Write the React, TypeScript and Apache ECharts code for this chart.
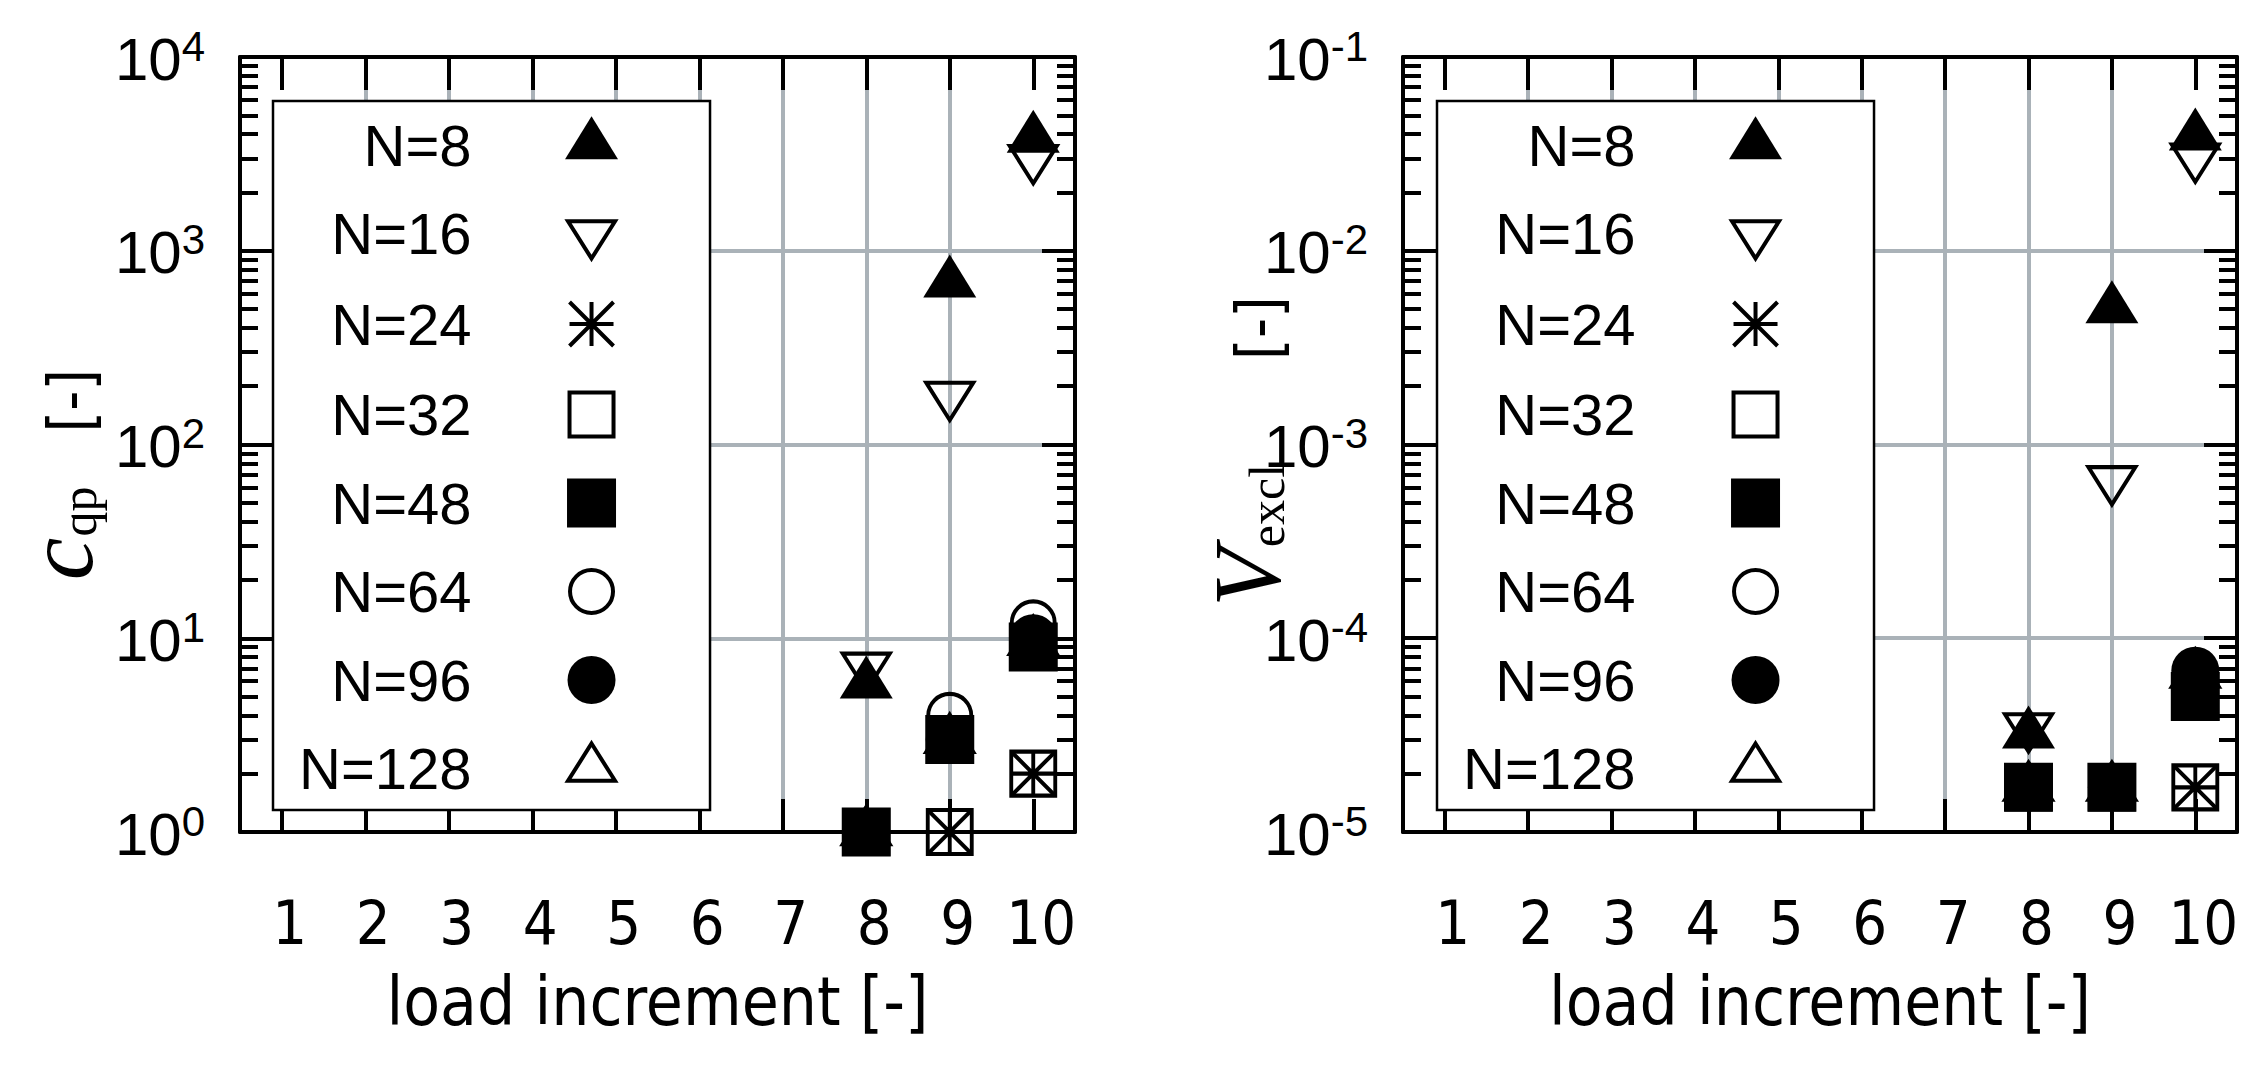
import React, { useEffect, useRef } from "react";
import * as echarts from "echarts";

// ---------------- data ----------------
const loadIncrements = [1, 2, 3, 4, 5, 6, 7, 8, 9, 10];
const xTickLabels = ["1", "2", "3", "4", "5", "6", "7", "8", "9", "10"];
const seriesNames = ["N=8", "N=16", "N=24", "N=32", "N=48", "N=64", "N=96", "N=128"];

// c_qp [-] per load increment (null = no point)
const cqpN8 = [null, null, null, null, null, null, null, 5.8, 680, 3800];
const cqpN16 = [null, null, null, null, null, null, null, 7.2, 180, 3000];
const cqpN24 = [null, null, null, null, null, null, null, 1, 1, 2];
const cqpN32 = [null, null, null, null, null, null, null, 1, 1, 2];
const cqpN48 = [null, null, null, null, null, null, null, 1, 3, 9];
const cqpN64 = [null, null, null, null, null, null, null, 1, 4, 12];
const cqpN96 = [null, null, null, null, null, null, null, 1, 3, 10];
const cqpN128 = [null, null, null, null, null, null, null, 1, 3, 9.6];

// V_excl [-] per load increment (null = no point)
const vexN8 = [null, null, null, null, null, null, null, 3.2e-5, 5.0e-3, 3.9e-2];
const vexN16 = [null, null, null, null, null, null, null, 3.5e-5, 6.6e-4, 3.05e-2];
const vexN24 = [null, null, null, null, null, null, null, 1.7e-5, 1.7e-5, 1.7e-5];
const vexN32 = [null, null, null, null, null, null, null, 1.7e-5, 1.7e-5, 1.7e-5];
const vexN48 = [null, null, null, null, null, null, null, 1.7e-5, 1.7e-5, 5.0e-5];
const vexN64 = [null, null, null, null, null, null, null, 1.7e-5, 1.7e-5, 6.0e-5];
const vexN96 = [null, null, null, null, null, null, null, 1.7e-5, 1.7e-5, 6.8e-5];
const vexN128 = [null, null, null, null, null, null, null, 1.7e-5, 1.7e-5, 6.5e-5];

const cqpMajorTicks = [1, 10, 100, 1000, 10000];
const vexMajorTicks = [1e-5, 1e-4, 1e-3, 1e-2, 1e-1];
const minorMultipliers = [2, 3, 4, 5, 6, 7, 8, 9];

const cqpValues = [cqpN8, cqpN16, cqpN24, cqpN32, cqpN48, cqpN64, cqpN96, cqpN128];
const vexValues = [vexN8, vexN16, vexN24, vexN32, vexN48, vexN64, vexN96, vexN128];

// ---------------- styles ----------------
const SANS = "'Liberation Sans', Arial, Helvetica, sans-serif";
const NARROW = "'DejaVu Sans Condensed', 'Liberation Sans Narrow', 'Liberation Sans', sans-serif";
const SERIF = "'Liberation Serif', 'DejaVu Serif', serif";
const GRID_GRAY = "#aab2b8";
const LW = 4;

// symbols drawn in a fixed 54 x 58 frame (pixel units); triangles centred on centroid
const FRAME = "M-27,-29 M27,29 ";
const SYM_TRI_UP = FRAME + "M0,-28.7 L26.5,14.3 L-26.5,14.3 Z";
const SYM_TRI_DOWN = FRAME + "M0,25 L23.5,-12.3 L-23.5,-12.3 Z";
const SYM_STAR = FRAME + "M-22,0 L22,0 M0,-22 L0,22 M-22,-22 L22,22 M22,-22 L-22,22";
const SYM_SQ_OPEN = FRAME + "M-22,-22 L22,-22 L22,22 L-22,22 Z";
const SYM_SQ_FILL = FRAME + "M-24.5,-24.5 L24.5,-24.5 L24.5,24.5 L-24.5,24.5 Z";
const SYM_CIR_OPEN = FRAME + "M-21.5,0 A21.5,21.5 0 1 0 21.5,0 A21.5,21.5 0 1 0 -21.5,0 Z";
const SYM_CIR_FILL = FRAME + "M-24,0 A24,24 0 1 0 24,0 A24,24 0 1 0 -24,0 Z";
const SYM_TRI_UP_OPEN = FRAME + "M0,-25 L23.5,12.3 L-23.5,12.3 Z";

const markerSymbols = [SYM_TRI_UP, SYM_TRI_DOWN, SYM_STAR, SYM_SQ_OPEN, SYM_SQ_FILL, SYM_CIR_OPEN, SYM_CIR_FILL, SYM_TRI_UP_OPEN];
const markerFilled = [true, false, false, false, true, false, true, false];

function markerStyle(i: number) {
  return markerFilled[i]
    ? { color: "#000", borderColor: "#000", borderWidth: 0, opacity: 1 }
    : { color: "rgba(0,0,0,0)", borderColor: "#000", borderWidth: LW, opacity: 1 };
}

function makeSeries(values: (number | null)[][], xAxisIndex: number, yAxisIndex: number) {
  return seriesNames.map((name, i) => ({
    type: "scatter",
    name,
    xAxisIndex,
    yAxisIndex,
    symbol: "path://" + markerSymbols[i],
    symbolSize: [54, 58],
    itemStyle: markerStyle(i),
    emphasis: { disabled: true },
    clip: false,
    z: 3,
    data: loadIncrements
      .map((x, j) => [x, values[i][j]])
      .filter((d) => d[1] !== null && d[1] !== undefined),
  }));
}

function makeLegend(left: number) {
  return {
    show: true,
    orient: "vertical",
    align: "right",
    left,
    top: 101,
    itemWidth: 54,
    itemHeight: 58,
    itemGap: 28.5,
    padding: [15, 89.5, 10.5, 26],
    backgroundColor: "#fff",
    borderColor: "#000",
    borderWidth: 2.5,
    borderRadius: 0,
    selectedMode: false,
    z: 6,
    textStyle: { fontFamily: SANS, fontSize: 58, color: "#000", lineHeight: 58, padding: [0, 88, 0, 0] },
    data: seriesNames.map((name, i) => ({ name, itemStyle: markerStyle(i) })),
  };
}

function minorTicks(majors: number[]) {
  const out: number[] = [];
  majors.slice(0, -1).forEach((m) => minorMultipliers.forEach((k) => out.push(+(m * k).toPrecision(6))));
  return out;
}

function xAxes(gridIndex: number) {
  const bottom = {
    gridIndex,
    type: "value",
    position: "bottom",
    min: 0.5,
    max: 10.5,
    splitNumber: 10,
    axisLine: { show: true, onZero: false, lineStyle: { color: "#000", width: LW } },
    axisTick: { show: true, inside: true, length: 33, customValues: loadIncrements, lineStyle: { color: "#000", width: LW } },
    axisLabel: {
      show: true,
      customValues: loadIncrements,
      formatter: (v: number) => xTickLabels[loadIncrements.indexOf(Math.round(v))] ?? "",
      fontFamily: NARROW,
      fontSize: 61,
      color: "#000",
      margin: 60,
      padding: [0, 0, 0, 16],
    },
    splitLine: { show: true, showMinLine: false, showMaxLine: false, lineStyle: { color: GRID_GRAY, width: LW } },
    name: "load increment [-]",
    nameLocation: "middle",
    nameGap: 136,
    nameMoveOverlap: false,
    nameTextStyle: { fontFamily: NARROW, fontSize: 67, color: "#000" },
  };
  const top = {
    gridIndex,
    type: "value",
    position: "top",
    min: 0.5,
    max: 10.5,
    splitNumber: 10,
    axisLine: { show: true, onZero: false, lineStyle: { color: "#000", width: LW } },
    axisTick: { show: true, inside: true, length: 33, customValues: loadIncrements, lineStyle: { color: "#000", width: LW } },
    axisLabel: { show: false },
    splitLine: { show: false },
  };
  return [bottom, top];
}

const yLabelRich = {
  b: { fontFamily: SANS, fontSize: 60, color: "#000", lineHeight: 64, padding: [8, 0, 0, 0], verticalAlign: "bottom" },
  s: { fontFamily: SANS, fontSize: 42, color: "#000", lineHeight: 46, verticalAlign: "top" },
};

function yAxes(gridIndex: number, min: number, max: number, majors: number[], name: string, nameRich: any, nameGap: number, namePadding: number[]) {
  const minors = minorTicks(majors);
  const base = { gridIndex, type: "log", logBase: 10, min, max };
  const leftMajor = {
    ...base,
    position: "left",
    axisLine: { show: true, onZero: false, lineStyle: { color: "#000", width: LW } },
    axisTick: { show: true, inside: true, length: 33, customValues: majors, lineStyle: { color: "#000", width: LW } },
    axisLabel: {
      show: true,
      customValues: majors,
      margin: 35,
      formatter: (v: number) => `{b|10}{s|${Math.round(Math.log10(v))}}`,
      rich: yLabelRich,
    },
    splitLine: { show: true, showMinLine: false, showMaxLine: false, lineStyle: { color: GRID_GRAY, width: LW } },
    name,
    nameLocation: "middle",
    nameRotate: 90,
    nameGap,
    nameMoveOverlap: false,
    nameTextStyle: { rich: nameRich, padding: namePadding },
  };
  const rightMajor = {
    ...base,
    position: "right",
    axisLine: { show: true, onZero: false, lineStyle: { color: "#000", width: LW } },
    axisTick: { show: true, inside: true, length: 33, customValues: majors, lineStyle: { color: "#000", width: LW } },
    axisLabel: { show: false },
    splitLine: { show: false },
  };
  const leftMinor = {
    ...base,
    position: "left",
    axisLine: { show: false },
    axisTick: { show: true, inside: true, length: 18, customValues: minors, lineStyle: { color: "#000", width: LW } },
    axisLabel: { show: false },
    splitLine: { show: false },
  };
  const rightMinor = { ...leftMinor, position: "right" };
  return [leftMajor, rightMajor, leftMinor, rightMinor];
}

// rotated axis titles: italic symbol, roman subscript, then "[-]"
function nameRich(gap1: number, gap2: number) {
  return {
    m: { fontFamily: SERIF, fontStyle: "italic", fontSize: 96, color: "#000", verticalAlign: "middle" },
    k: { fontSize: 10, width: gap1, verticalAlign: "middle" },
    s: { fontFamily: SERIF, fontSize: 50, color: "#000", padding: [39, 0, 0, 0], verticalAlign: "middle" },
    g: { fontSize: 10, width: gap2, verticalAlign: "middle" },
    t: { fontFamily: NARROW, fontSize: 62, color: "#000", padding: [22, 0, 0, 0], verticalAlign: "middle" },
  };
}

export default function App() {
  const ref = useRef<HTMLDivElement>(null);
  useEffect(() => {
    if (!ref.current) return;
    const chart = echarts.init(ref.current, undefined, { renderer: "svg" });
    const option: any = {
      animation: false,
      backgroundColor: "#fff",
      grid: [
        { left: 240, top: 57, width: 835, height: 775, containLabel: false },
        { left: 1403, top: 57, width: 834, height: 775, containLabel: false },
      ],
      xAxis: [...xAxes(0), ...xAxes(1)],
      yAxis: [
        ...yAxes(0, 1, 10000, cqpMajorTicks, "{m|c}{k| }{s|qp}{g| }{t|[-]}", nameRich(1, 54), 133, [0, 60, 0, 0]),
        ...yAxes(1, 1e-5, 1e-1, vexMajorTicks, "{m|V}{k| }{s|excl}{g| }{t|[-]}", nameRich(1, 104), 108, [0, 14, 0, 0]),
      ],
      legend: [makeLegend(273), makeLegend(1437)],
      series: [...makeSeries(cqpValues, 0, 0), ...makeSeries(vexValues, 2, 4)],
    };
    chart.setOption(option);
    return () => chart.dispose();
  }, []);
  return (
    <div
      ref={ref}
      style={{ position: "fixed", left: 0, top: 0, width: 2267, height: 1065, background: "#fff" }}
    />
  );
}
